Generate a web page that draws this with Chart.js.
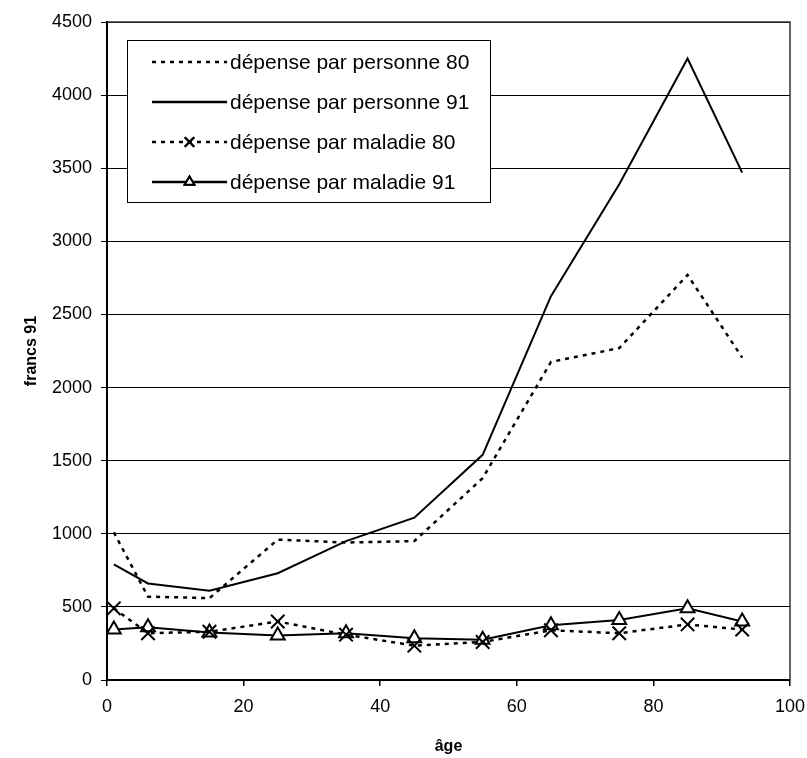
<!DOCTYPE html>
<html>
<head>
<meta charset="utf-8">
<script src="https://cdn.jsdelivr.net/npm/chart.js@4.4.1/dist/chart.umd.min.js"></script>
<style>
  html, body { margin: 0; padding: 0; background: #fff; }
  #wrap { width: 807px; height: 758px; }
</style>
</head>
<body>
<div id="wrap"><canvas id="chart" width="807" height="758"></canvas></div>
<script>
// ================= DATA =================
const ages = [1, 6, 15, 25, 35, 45, 55, 65, 75, 85, 93];

const seriesNames = [
    "dépense par personne 80",
    "dépense par personne 91",
    "dépense par maladie 80",
    "dépense par maladie 91"
];

const personne80 = [1010, 570, 560, 960, 940, 950, 1380, 2175, 2270, 2770, 2205];
const personne91 = [790, 660, 610, 730, 950, 1110, 1540, 2625, 3390, 4250, 3470];
const maladie80  = [490, 320, 330, 400, 310, 235, 260, 340, 320, 380, 345];
const maladie91  = [345, 360, 325, 305, 320, 285, 275, 375, 410, 490, 400];

const xTicks = [0, 20, 40, 60, 80, 100];
const yTicks = [0, 500, 1000, 1500, 2000, 2500, 3000, 3500, 4000, 4500];

const FONT = "'Liberation Sans', Arial, sans-serif";
const DASH = [4, 5];

const toPoints = (vals) => ages.map((a, i) => ({ x: a, y: vals[i] }));

// ================= PLUGINS =================
// plot area border (top + right)
const frame = {
    id: "frame",
    afterDatasetsDraw(chart) {
        const { ctx, chartArea: a } = chart;
        ctx.save();
        ctx.strokeStyle = "#333";
        ctx.lineWidth = 1.5;
        ctx.beginPath();
        ctx.moveTo(a.left, a.top);
        ctx.lineTo(a.right, a.top);
        ctx.lineTo(a.right, a.bottom);
        ctx.stroke();
        ctx.restore();
    }
};

// legend box inside plot area
const boxLegend = {
    id: "boxLegend",
    afterDraw(chart) {
        const { ctx } = chart;
        const L = 127, T = 40, W = 363, H = 162;
        ctx.save();
        ctx.fillStyle = "#fff";
        ctx.fillRect(L, T, W, H);
        ctx.strokeStyle = "#000";
        ctx.lineWidth = 1;
        ctx.strokeRect(L + 0.5, T + 0.5, W, H);

        ctx.font = "21px " + FONT;
        ctx.textBaseline = "middle";
        ctx.fillStyle = "#000";

        chart.data.datasets.forEach((ds, i) => {
            const y = T + 22 + i * 40;
            const x0 = L + 25, x1 = L + 100;
            ctx.strokeStyle = "#000";
            ctx.lineWidth = 2.5;
            ctx.setLineDash(ds.borderDash || []);
            ctx.beginPath();
            ctx.moveTo(x0, y);
            ctx.lineTo(x1, y);
            ctx.stroke();
            ctx.setLineDash([]);
            if (ds.pointStyle && ds.pointRadius > 0) {
                ctx.lineWidth = 2;
                Chart.helpers.drawPoint(ctx, {
                    pointStyle: ds.pointStyle,
                    radius: ds.pointRadius * 0.7,
                    borderWidth: 2
                }, (x0 + x1) / 2, y);
                ctx.fillStyle = "#fff";
                ctx.fill();
                ctx.stroke();
                ctx.fillStyle = "#000";
            }
            ctx.fillText(seriesNames[i], x1 + 3, y + 1);
        });
        ctx.restore();
    }
};

// ================= CHART =================
const ctx = document.getElementById("chart").getContext("2d");

new Chart(ctx, {
    type: "line",
    data: {
        datasets: [
            {
                label: seriesNames[0],
                data: toPoints(personne80),
                borderColor: "#000",
                borderWidth: 2.5,
                borderDash: DASH,
                pointRadius: 0
            },
            {
                label: seriesNames[1],
                data: toPoints(personne91),
                borderColor: "#000",
                borderWidth: 2,
                pointRadius: 0
            },
            {
                label: seriesNames[2],
                data: toPoints(maladie80),
                borderColor: "#000",
                borderWidth: 2.5,
                borderDash: DASH,
                pointStyle: "crossRot",
                pointRadius: 9.5,
                pointBorderWidth: 2,
                pointBorderColor: "#000",
                pointBackgroundColor: "#fff"
            },
            {
                label: seriesNames[3],
                data: toPoints(maladie91),
                borderColor: "#000",
                borderWidth: 2,
                pointStyle: "triangle",
                pointRadius: 8,
                pointBorderWidth: 2,
                pointBorderColor: "#000",
                pointBackgroundColor: "#fff"
            }
        ]
    },
    plugins: [frame, boxLegend],
    options: {
        responsive: false,
        animation: false,
        layout: { padding: { top: 22, right: 17, left: 0, bottom: 0 } },
        plugins: {
            legend: { display: false },
            tooltip: { enabled: false }
        },
        scales: {
            x: {
                type: "linear",
                min: 0,
                max: 100,
                afterBuildTicks: (s) => { s.ticks = xTicks.map(v => ({ value: v })); },
                afterFit: (s) => { s.height = 78; s.paddingLeft = 0; s.paddingRight = 0; },
                grid: { drawOnChartArea: false, drawTicks: true, tickLength: 6, color: "#000", lineWidth: 1.5 },
                border: { color: "#000", width: 2 },
                ticks: {
                    color: "#000",
                    font: { family: FONT, size: 18 },
                    padding: 10,
                    maxRotation: 0,
                    callback: (v) => String(v)
                },
                title: {
                    display: true,
                    text: "âge",
                    color: "#000",
                    font: { family: FONT, size: 16, weight: "bold" },
                    padding: { top: 0, bottom: 2 }
                }
            },
            y: {
                min: 0,
                max: 4500,
                afterBuildTicks: (s) => { s.ticks = yTicks.map(v => ({ value: v })); },
                afterFit: (s) => { s.width = 107; s.paddingTop = 0; s.paddingBottom = 0; },
                grid: { color: "#000", lineWidth: 1, tickLength: 6 },
                border: { color: "#000", width: 2 },
                ticks: {
                    color: "#000",
                    font: { family: FONT, size: 18 },
                    padding: 9,
                    callback: (v) => String(v)
                },
                title: {
                    display: true,
                    text: "francs 91",
                    color: "#000",
                    font: { family: FONT, size: 16, weight: "bold" },
                    padding: { top: 22, bottom: 0 }
                }
            }
        }
    }
});
</script>
</body>
</html>
